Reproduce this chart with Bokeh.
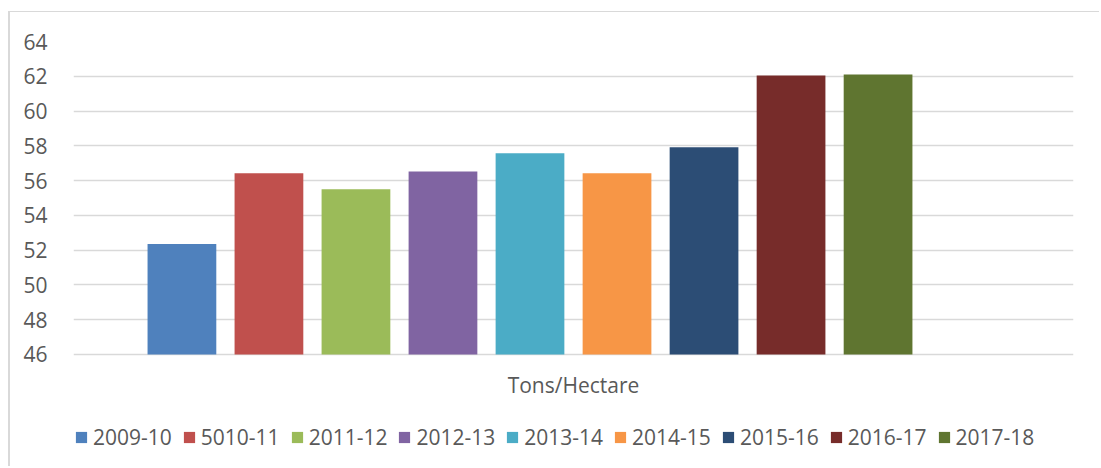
from bokeh.plotting import figure
from bokeh.models import ColumnDataSource, Range1d, FixedTicker, Legend, LegendItem, Label
from bokeh.embed import file_html
from bokeh.resources import INLINE

series = ["2009-10", "5010-11", "2011-12", "2012-13", "2013-14",
          "2014-15", "2015-16", "2016-17", "2017-18"]
values = [52.35, 56.42, 55.5, 56.52, 57.57, 56.42, 57.92, 62.05, 62.1]
colors = ["#4F81BD", "#C0504D", "#9BBB59", "#8064A2", "#4BACC6",
          "#F79646", "#2C4D75", "#772C2A", "#5F7530"]
category = "Tons/Hectare"
y_ticks = [46, 48, 50, 52, 54, 56, 58, 60, 62, 64]

FONT = "Open Sans"
TXT = "#595959"
n_slots = 10  # Excel leaves room for an empty tenth series
y0, y1 = y_ticks[0], y_ticks[-1]
x_start, x_end = -1.246, n_slots - 1 + 1.246

# frame runs down to the bottom so that the category label and the legend
# can sit inside it (below the axis minimum)
p = figure(width=1091, height=455, output_backend="svg", toolbar_location=None,
           x_range=Range1d(x_start, x_end), y_range=Range1d(y0 - 6.5, y1),
           min_border_left=63, min_border_right=28, min_border_top=29,
           min_border_bottom=0)
p.styles = {"margin-top": "11px", "margin-left": "8px",
            "border-top": "1px solid #d9d9d9",
            "border-left": "2px solid #d9d9d9"}
p.outline_line_color = None
p.background_fill_color = "white"
p.border_fill_color = "white"

src = ColumnDataSource(dict(x=list(range(len(series))), top=values,
                            color=colors, series=series))
r = p.vbar(x="x", top="top", bottom=y0, width=0.79, color="color",
           line_color=None, source=src)

p.xgrid.visible = False
p.xaxis.visible = False
p.ygrid.ticker = FixedTicker(ticks=y_ticks)
p.ygrid.grid_line_color = "#d9d9d9"
p.ygrid.grid_line_width = 1.5
p.yaxis.ticker = FixedTicker(ticks=y_ticks)
p.yaxis.axis_line_color = None
p.yaxis.major_tick_line_color = None
p.yaxis.minor_tick_line_color = None
p.yaxis.major_label_standoff = 20
p.yaxis.major_label_text_font = FONT
p.yaxis.major_label_text_font_size = "21px"
p.yaxis.major_label_text_color = TXT

p.add_layout(Label(x=(x_start + x_end) / 2, y=y0 - 1.73, text=category,
                   text_align="center", text_baseline="middle",
                   text_font=FONT, text_font_size="21px", text_color=TXT))

items = [LegendItem(label=s, renderers=[r], index=i) for i, s in enumerate(series)]
legend = Legend(items=items, orientation="horizontal", location=(1, 16),
                glyph_width=14, glyph_height=14, label_standoff=5, spacing=10,
                padding=0, margin=0, border_line_color=None,
                background_fill_alpha=0, label_text_font=FONT,
                label_text_font_size="21px", label_text_color=TXT,
                label_height=14)
p.add_layout(legend, "center")

open("out.html", "w").write(file_html(p, INLINE))
